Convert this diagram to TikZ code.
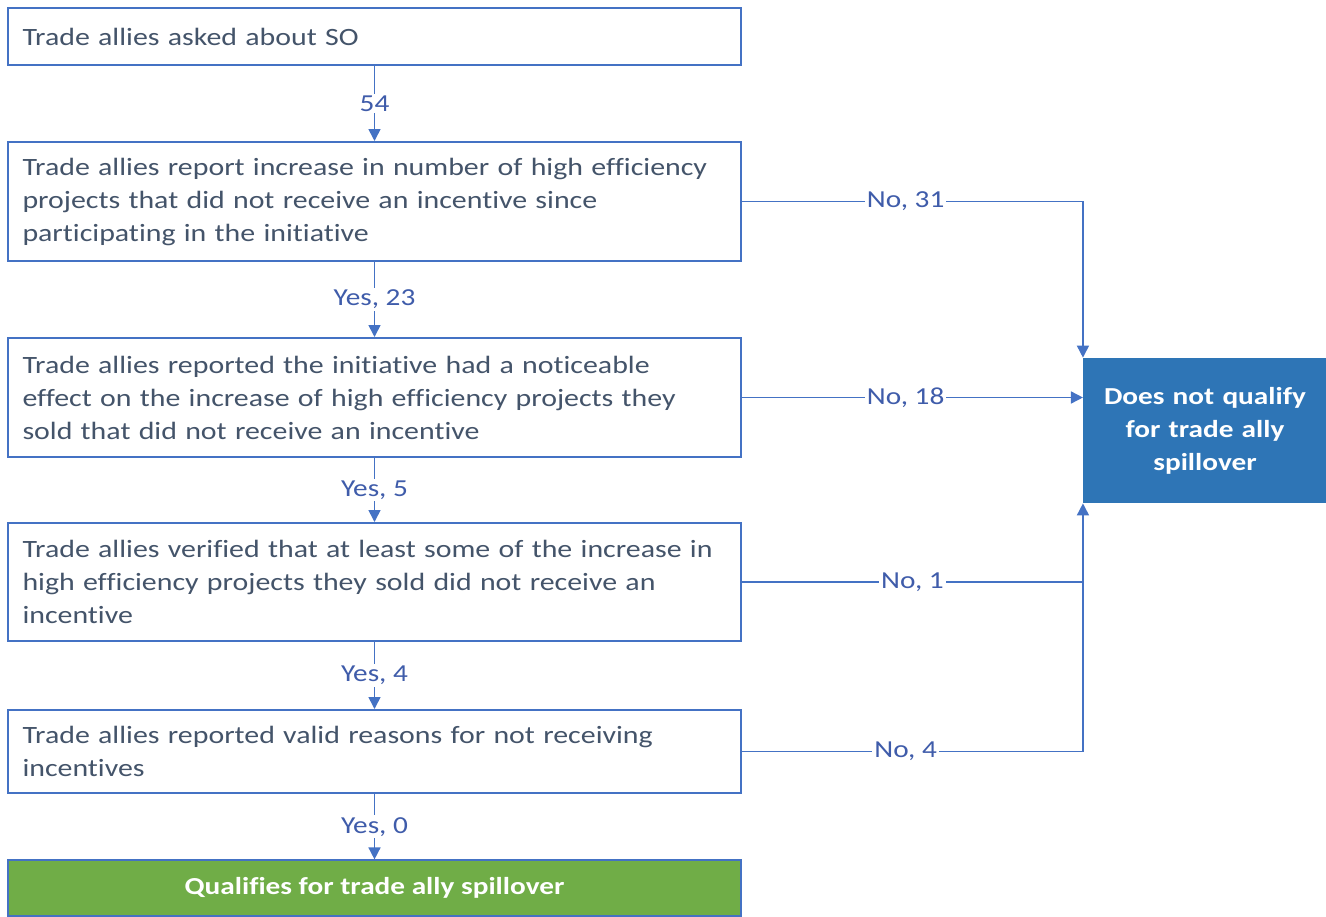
\documentclass[tikz,border=0pt]{standalone}
\usepackage{fontspec}
\setmainfont{Carlito}[FakeStretch=1.2, Ligatures=NoCommon]
\usetikzlibrary{arrows.meta,calc}
\definecolor{lineblue}{HTML}{4472C4}
\definecolor{txtgray}{HTML}{44546A}
\definecolor{lblblue}{HTML}{3F5CAA}
\definecolor{boxblue}{HTML}{2E75B6}
\definecolor{boxgreen}{HTML}{70AD47}
\tikzset{
  stepbox/.style={draw=lineblue, line width=1pt, fill=white, text=txtgray,
    minimum width=366.5pt, text width=352pt, inner xsep=7pt, align=left,
    font=\fontsize{12.45pt}{16.5pt}\selectfont},
  conn/.style={draw=lineblue, line width=0.8pt, -{Triangle[length=6pt,width=6pt]}},
  plainconn/.style={draw=lineblue, line width=0.8pt},
  lbl/.style={fill=white, text=lblblue, inner sep=1pt, font=\fontsize{12.2pt}{14pt}\selectfont},
}
\begin{document}
\begin{tikzpicture}[x=0.5pt,y=-0.5pt]
\useasboundingbox (0,0) rectangle (1326,916);
\node[stepbox, minimum height=28.5pt] (b1) at (374.5,36.5) {Trade allies asked about SO};
\node[stepbox, minimum height=59.5pt] (b2) at (374.5,201.5) {Trade allies report increase in number of high efficiency\\projects that did not receive an incentive since\\participating in the initiative};
\node[stepbox, minimum height=59.5pt] (b3) at (374.5,397.5) {Trade allies reported the initiative had a noticeable\\effect on the increase of high efficiency projects they\\sold that did not receive an incentive};
\node[stepbox, minimum height=59pt] (b4) at (374.5,582) {Trade allies verified that at least some of the increase in\\high efficiency projects they sold did not receive an\\incentive};
\node[stepbox, minimum height=41.5pt] (b5) at (374.5,751.5) {Trade allies reported valid reasons for not receiving\\incentives};
\node[draw=lineblue, line width=0.6pt, fill=boxgreen, text=white, minimum width=366.5pt, minimum height=28pt,
  font=\bfseries\fontsize{12.2pt}{14pt}\selectfont] (q) at (374.5,888) {Qualifies for trade ally spillover};
\node[fill=boxblue, text=white, minimum width=121pt, minimum height=72.5pt, text width=115pt, align=center,
  font=\bfseries\fontsize{12.2pt}{16.5pt}\selectfont] (nq) at (1205,430.5) {Does not qualify\\for trade ally\\spillover};

\draw[conn] (b1.south) -- node[lbl]{54} (b2.north);
\draw[conn] (b2.south) -- node[lbl]{Yes, 23} (b3.north);
\draw[conn] (b3.south) -- node[lbl]{Yes, 5} (b4.north);
\draw[conn] (b4.south) -- node[lbl]{Yes, 4} (b5.north);
\draw[conn] (b5.south) -- node[lbl]{Yes, 0} (q.north);

\draw[conn] (b2.east) -| node[lbl, pos=0.24]{No, 31} (nq.north west);
\draw[conn] (b3.east) -- node[lbl, pos=0.48]{No, 18} (b3.east -| nq.west);
\coordinate (j1) at (b4.east -| nq.west);
\draw[plainconn] (b4.east) -- node[lbl]{No, 1} (j1);
\draw[conn] (b5.east) -| node[lbl, pos=0.24]{No, 4} (nq.south west);
\end{tikzpicture}
\end{document}
